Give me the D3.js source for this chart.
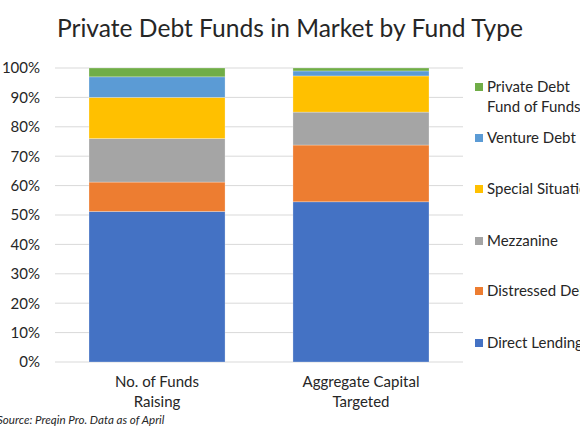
<!DOCTYPE html>
<html>
<head>
<meta charset="utf-8">
<script src="https://cdn.jsdelivr.net/npm/d3@7"></script>
<style>
  body { margin: 0; background: #fff; overflow: hidden; }
  text { font-family: Lato, "Open Sans", sans-serif; fill: #262626; }
</style>
</head>
<body>
<div id="chart"></div>
<script>
const categories = ['No. of Funds|Raising', 'Aggregate Capital|Targeted'];
const fundTypes = ['Direct Lending', 'Distressed Debt', 'Mezzanine', 'Special Situations', 'Venture Debt', 'Private Debt|Fund of Funds'];
const directLending = [51.2, 54.5];
const distressedDebt = [10.0, 19.3];
const mezzanine = [14.8, 11.2];
const specialSituations = [14.0, 12.3];
const ventureDebt = [7.0, 1.7];
const fundOfFunds = [3.0, 1.0];
const yTicks = [0, 10, 20, 30, 40, 50, 60, 70, 80, 90, 100];
const colors = ['#4472C4', '#ED7D31', '#A5A5A5', '#FFC000', '#5B9BD5', '#70AD47'];

const series = [directLending, distressedDebt, mezzanine, specialSituations, ventureDebt, fundOfFunds];
const rows = categories.map((c, i) => {
  const r = { cat: c };
  fundTypes.forEach((f, j) => { r[f] = series[j][i]; });
  return r;
});

const width = 580;
const height = 435;
const margin = { top: 68, right: 117, bottom: 73, left: 55 };

const svg = d3.select('#chart')
  .append('svg')
  .attr('width', width)
  .attr('height', height);

const x = d3.scaleBand()
  .domain(categories)
  .range([margin.left, width - margin.right])
  .paddingInner(0.333)
  .paddingOuter(0.1667);

const y = d3.scaleLinear()
  .domain([0, 100])
  .range([height - margin.bottom, margin.top]);

// gridlines
svg.append('g')
  .selectAll('line')
  .data(yTicks)
  .enter()
  .append('line')
  .attr('x1', margin.left)
  .attr('x2', width - margin.right)
  .attr('y1', d => y(d))
  .attr('y2', d => y(d))
  .attr('stroke', '#d9d9d9')
  .attr('stroke-width', 1);

// y axis labels
const yAxis = svg.append('g')
  .attr('transform', `translate(${margin.left},0)`)
  .call(d3.axisLeft(y).tickValues(yTicks).tickFormat(d => d + '%').tickSize(0).tickPadding(15));
yAxis.select('.domain').remove();
yAxis.selectAll('text')
  .attr('font-size', '15px')
  .attr('font-family', 'Lato, sans-serif')
  .attr('fill', '#404040');

const stack = d3.stack().keys(fundTypes);
const stacked = stack(rows);

svg.append('g')
  .selectAll('g')
  .data(stacked)
  .enter()
  .append('g')
  .attr('fill', (d, i) => colors[i])
  .selectAll('rect')
  .data(d => d)
  .enter()
  .append('rect')
  .attr('x', d => x(d.data.cat))
  .attr('width', x.bandwidth())
  .attr('y', d => y(d[1]))
  .attr('height', d => y(d[0]) - y(d[1]))
  .attr('stroke', '#ffffff')
  .attr('stroke-opacity', 0.35)
  .attr('stroke-width', 0.75);

// category labels
const catLabels = svg.append('g')
  .selectAll('text')
  .data(categories)
  .enter()
  .append('text')
  .attr('x', d => x(d) + x.bandwidth() / 2)
  .attr('y', 387)
  .attr('text-anchor', 'middle')
  .attr('font-size', '15px')
  .attr('fill', '#404040');
catLabels.selectAll('tspan')
  .data(d => d.split('|'))
  .enter()
  .append('tspan')
  .attr('x', function () { return d3.select(this.parentNode).attr('x'); })
  .attr('dy', (d, i) => i === 0 ? 0 : 20)
  .text(d => d);

// legend
const legendY = [343, 291, 241, 189, 138, 87];
const legend = svg.append('g');
fundTypes.forEach((f, i) => {
  legend.append('rect')
    .attr('x', 475)
    .attr('y', legendY[i] - 4)
    .attr('width', 8)
    .attr('height', 8)
    .attr('fill', colors[i]);
  const t = legend.append('text')
    .attr('x', 487)
    .attr('y', legendY[i] + 5)
    .attr('font-size', '15px')
    .attr('fill', '#404040');
  f.split('|').forEach((line, k) => {
    t.append('tspan')
      .attr('x', 487)
      .attr('dy', k === 0 ? 0 : 20)
      .text(line);
  });
});

// title
svg.append('text')
  .attr('x', 290)
  .attr('y', 37)
  .attr('text-anchor', 'middle')
  .attr('font-size', '24.6px')
  .attr('fill', '#333333')
  .text('Private Debt Funds in Market by Fund Type');

// source
svg.append('text')
  .attr('x', -3)
  .attr('y', 424)
  .attr('font-size', '11.6px')
  .attr('font-style', 'italic')
  .attr('fill', '#404040')
  .text('Source: Preqin Pro. Data as of April');
</script>
</body>
</html>
